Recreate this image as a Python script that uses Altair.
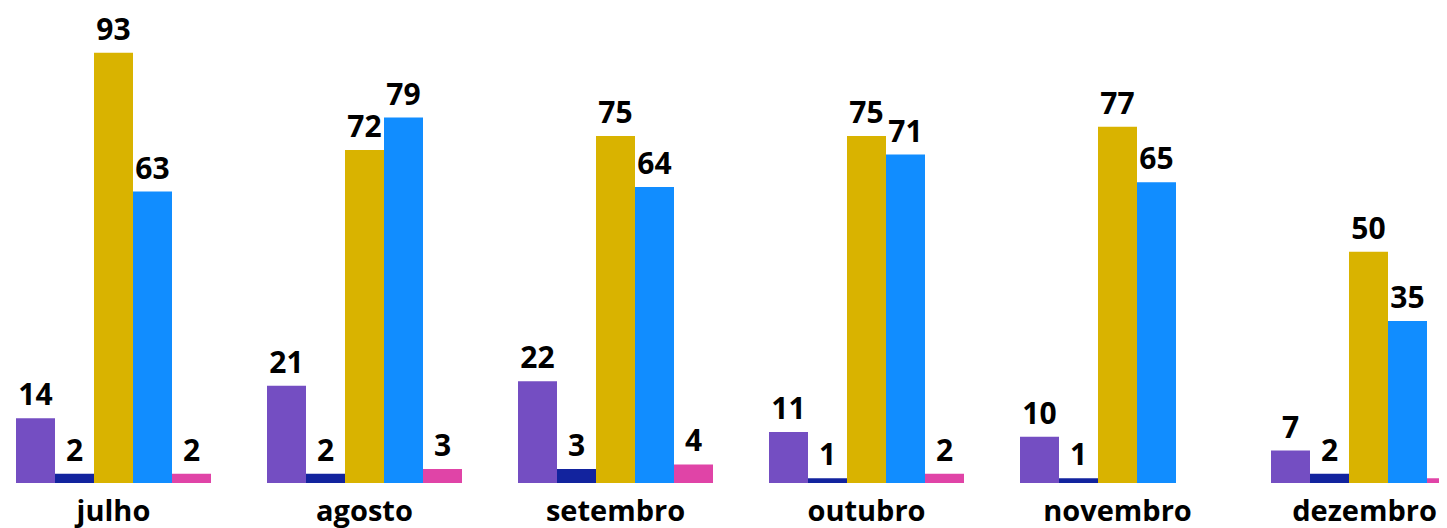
import altair as alt
import pandas as pd

months = ["julho", "agosto", "setembro", "outubro", "novembro", "dezembro"]
series = ["S1", "S2", "S3", "S4", "S5"]
colors = ["#744EC2", "#12239E", "#D9B300", "#118DFF", "#E044A7"]

s1 = [14, 21, 22, 11, 10, 7]
s2 = [2, 2, 3, 1, 1, 2]
s3 = [93, 72, 75, 75, 77, 50]
s4 = [63, 79, 64, 71, 65, 35]
s5 = [2, 3, 4, 2, None, 1]

rows = []
for name, vals in zip(series, [s1, s2, s3, s4, s5]):
    for m, v in zip(months, vals):
        if v is not None:
            rows.append({"month": m, "series": name, "value": v})
df = pd.DataFrame(rows)

FONT = "Open Sans"

x = alt.X(
    "month:N",
    sort=months,
    title=None,
    scale=alt.Scale(range=[0, 1466], paddingInner=56 / 251, paddingOuter=8 / 251),
    axis=alt.Axis(
        ticks=False,
        domain=False,
        labelAngle=0,
        labelFont=FONT,
        labelFontWeight="bold",
        labelFontSize=29,
        labelColor="#000000",
        labelPadding=14,
        labelOffset={"condition": {"test": "datum.value == 'dezembro'", "value": -4}, "value": 0},
        grid=False,
    ),
)
xo = alt.XOffset("series:N", sort=series, scale=alt.Scale(paddingInner=0, paddingOuter=0))
y = alt.Y("value:Q", scale=alt.Scale(domain=[0, 102.7], nice=False, zero=True), axis=None)

bars = alt.Chart(df).mark_bar(clip=True).encode(
    x=x,
    xOffset=xo,
    y=y,
    color=alt.Color("series:N", sort=series, scale=alt.Scale(domain=series, range=colors), legend=None),
)

labels = alt.Chart(df).mark_text(
    clip=True, baseline="bottom", dy=-7, font=FONT, fontWeight="bold", fontSize=30, color="#000000"
).encode(
    x=x,
    xOffset=xo,
    y=y,
    text=alt.Text("value:Q"),
)

chart = (
    alt.layer(bars, labels)
    .properties(
        width=1431,
        height=475,
        padding={"left": 0, "top": 0, "right": 0, "bottom": 45},
        autosize=alt.AutoSizeParams(type="none"),
    )
    .configure_view(stroke=None)
)

chart.save("out.html", embed_options={"renderer": "svg", "actions": False})
